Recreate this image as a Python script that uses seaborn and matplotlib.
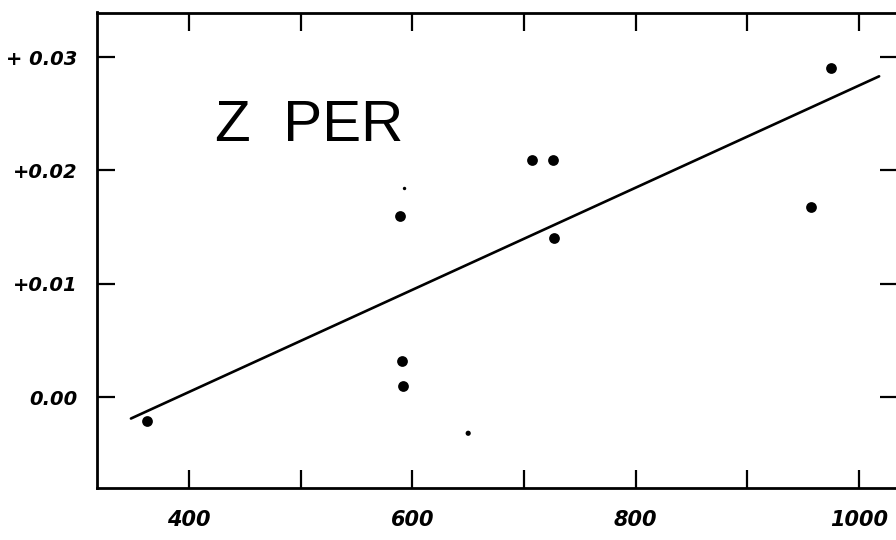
import matplotlib
matplotlib.use("Agg")
import matplotlib.pyplot as plt
import seaborn as sns
import pandas as pd

# ---- data ----
x_big = [362, 589, 591, 592, 707, 726, 727, 957, 975]
y_big = [-0.0021, 0.0160, 0.0032, 0.0010, 0.0209, 0.0209, 0.0140, 0.0168, 0.0290]
x_small = [593, 650]
y_small = [0.0184, -0.0032]
small_sizes = [6, 14]
line_x = [348, 1018]
line_y = [-0.0019, 0.0283]

x_ticks = [400, 500, 600, 700, 800, 900, 1000]
x_ticklabels = ["400", "", "600", "", "800", "", "1000"]
y_ticks = [0.00, 0.01, 0.02, 0.03]
y_ticklabels = ["0.00", "+0.01", "+0.02", "+ 0.03"]
title_text = "Z  PER"

sns.set_theme(style="white")
plt.rcParams['font.family'] = ['DejaVu Sans']

fig = plt.figure(figsize=(8.96, 5.40), dpi=100)
W, H = 896, 540
left, right, top, bottom = 97, 898, 12.5, 488
ax = fig.add_axes([left / W, 1 - bottom / H, (right - left) / W, (bottom - top) / H])

big = pd.DataFrame({"x": x_big, "y": y_big})
small = pd.DataFrame({"x": x_small, "y": y_small, "s": small_sizes})
line = pd.DataFrame({"x": line_x, "y": line_y})

sns.lineplot(data=line, x="x", y="y", ax=ax, color="black", linewidth=1.9)
sns.scatterplot(data=big, x="x", y="y", ax=ax, color="black", s=60,
                edgecolor="black", linewidth=0)
sns.scatterplot(data=small, x="x", y="y", ax=ax, color="black", size="s",
                sizes=(6, 14), legend=False, edgecolor="black", linewidth=0)

ax.set_xlim(317.6, 1034.9)
ax.set_ylim(-0.00803, 0.03393)
ax.set_xlabel("")
ax.set_ylabel("")

for sp in ax.spines.values():
    sp.set_color("black")
    sp.set_linewidth(2.0)

ax.set_xticks(x_ticks)
ax.set_xticklabels(x_ticklabels, fontsize=15, fontstyle="italic", fontweight="bold")
ax.set_yticks(y_ticks)
ax.set_yticklabels(y_ticklabels, fontsize=14, fontstyle="italic", fontweight="bold")
ax.tick_params(axis="both", which="major", direction="in", length=13, width=1.6,
               color="black", top=True, right=True, bottom=True, left=True,
               labelcolor="black")
ax.tick_params(axis="x", pad=16)
ax.tick_params(axis="y", pad=14)

ax.text(0.147, 0.73, title_text, transform=ax.transAxes, fontsize=42,
        fontstyle="normal", fontweight="normal", color="black",
        family=["Liberation Sans", "DejaVu Sans"], ha="left", va="baseline")

fig.savefig("out.png", dpi=100, facecolor="white")
